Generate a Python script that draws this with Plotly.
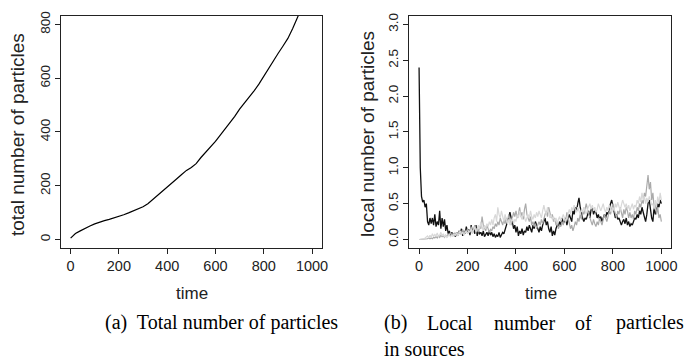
import plotly.graph_objects as go

W, H = 684, 362

# ---------------- data ----------------
# (a) total number of particles, sampled every 20 time units
time_total = list(range(0, 1001, 20))
total_particles = [5, 22, 32, 42, 50, 58, 65, 70, 75, 80,
                   86, 92, 99, 106, 114, 122, 133, 148, 163, 178,
                   195, 210, 226, 242, 257, 268, 282, 305, 325, 342,
                   365, 388, 410, 433, 458, 485, 507, 530, 553, 578,
                   607, 640, 668, 693, 720, 748, 785, 830, 870, 910,
                   950]

# (b) local number of particles in three sources, every 5 time units
time_local = list(range(0, 1001, 5))
source_black = [
    2.4, 1.0, 0.6, 0.52, 0.55, 0.45, 0.5, 0.25, 0.2, 0.3,
    0.22, 0.3, 0.2, 0.35, 0.18, 0.25, 0.2, 0.4, 0.15, 0.3,
    0.18, 0.28, 0.12, 0.2, 0.08, 0.12, 0.05, 0.1, 0.06, 0.08,
    0.04, 0.1, 0.05, 0.12, 0.08, 0.15, 0.05, 0.12, 0.08, 0.18,
    0.1, 0.14, 0.06, 0.2, 0.1, 0.15, 0.08, 0.2, 0.05, 0.12,
    0.08, 0.1, 0.05, 0.12, 0.04, 0.08, 0.1, 0.05, 0.12, 0.06,
    0.1, 0.04, 0.08, 0.03, 0.06, 0.04, 0.1, 0.03, 0.06, 0.1,
    0.08, 0.15, 0.2, 0.25, 0.3, 0.38, 0.3, 0.25, 0.15, 0.2,
    0.1, 0.18, 0.05, 0.12, 0.08, 0.15, 0.06, 0.12, 0.1, 0.18,
    0.12, 0.2, 0.15, 0.1, 0.2, 0.15, 0.25, 0.2, 0.15, 0.1,
    0.18, 0.12, 0.2, 0.25, 0.3, 0.2, 0.25, 0.15, 0.1, 0.18,
    0.05, 0.12, 0.06, 0.15, 0.2, 0.18, 0.25, 0.2, 0.3, 0.22,
    0.25, 0.3, 0.2, 0.28, 0.35, 0.3, 0.25, 0.4, 0.35, 0.45,
    0.4, 0.5, 0.58, 0.45, 0.35, 0.3, 0.25, 0.3, 0.28, 0.35,
    0.4, 0.3, 0.42, 0.45, 0.35, 0.4, 0.38, 0.3, 0.35, 0.28,
    0.32, 0.25, 0.3, 0.35, 0.3, 0.38, 0.35, 0.45, 0.5, 0.55,
    0.45, 0.4, 0.3, 0.35, 0.28, 0.3, 0.25, 0.2, 0.25, 0.28,
    0.22, 0.3, 0.2, 0.25, 0.18, 0.22, 0.2, 0.25, 0.3, 0.28,
    0.35, 0.3, 0.4, 0.35, 0.45, 0.38, 0.3, 0.25, 0.35, 0.5,
    0.55, 0.4, 0.3, 0.25, 0.45, 0.35, 0.4, 0.5, 0.45, 0.55,
    0.5]
source_gray = [
    0, 0, 0, 0, 0, 0.01, 0, 0.01, 0.02, 0.01,
    0.02, 0.01, 0.03, 0.02, 0.04, 0.02, 0.05, 0.03, 0.06, 0.04,
    0.05, 0.03, 0.06, 0.04, 0.08, 0.05, 0.1, 0.06, 0.08, 0.05,
    0.07, 0.1, 0.06, 0.12, 0.08, 0.1, 0.14, 0.08, 0.12, 0.1,
    0.15, 0.1, 0.12, 0.18, 0.1, 0.14, 0.2, 0.12, 0.16, 0.1,
    0.18, 0.15, 0.32, 0.2, 0.15, 0.12, 0.2, 0.15, 0.1, 0.14,
    0.12, 0.18, 0.15, 0.22, 0.18, 0.25, 0.2, 0.3, 0.25, 0.2,
    0.28, 0.22, 0.3, 0.25, 0.35, 0.28, 0.2, 0.3, 0.38, 0.32,
    0.4, 0.3, 0.35, 0.45, 0.32, 0.38, 0.28, 0.42, 0.5, 0.35,
    0.3, 0.25, 0.32, 0.2, 0.25, 0.18, 0.22, 0.15, 0.2, 0.25,
    0.2, 0.28, 0.22, 0.3, 0.35, 0.4, 0.32, 0.45, 0.38, 0.3,
    0.35, 0.25, 0.3, 0.2, 0.25, 0.15, 0.2, 0.18, 0.25, 0.2,
    0.3, 0.25, 0.38, 0.3, 0.22, 0.15, 0.2, 0.12, 0.18, 0.25,
    0.2, 0.3, 0.25, 0.35, 0.28, 0.4, 0.35, 0.45, 0.5, 0.42,
    0.35, 0.3, 0.25, 0.2, 0.28, 0.22, 0.18, 0.25, 0.2, 0.3,
    0.25, 0.2, 0.28, 0.35, 0.3, 0.25, 0.32, 0.4, 0.35, 0.45,
    0.5, 0.42, 0.35, 0.3, 0.4, 0.35, 0.45, 0.38, 0.3, 0.42,
    0.35, 0.45, 0.4, 0.3, 0.38, 0.3, 0.35, 0.28, 0.4, 0.35,
    0.45, 0.4, 0.5, 0.45, 0.55, 0.5, 0.65, 0.6, 0.75, 0.9,
    0.7, 0.8, 0.55, 0.65, 0.45, 0.5, 0.35, 0.45, 0.3, 0.35,
    0.25]
source_light = [
    0, 0, 0, 0, 0.01, 0.02, 0.03, 0.05, 0.02, 0.06,
    0.03, 0.08, 0.04, 0.07, 0.05, 0.09, 0.04, 0.06, 0.1, 0.05,
    0.08, 0.04, 0.06, 0.03, 0.05, 0.07, 0.04, 0.06, 0.05, 0.08,
    0.06, 0.09, 0.05, 0.08, 0.12, 0.07, 0.1, 0.06, 0.09, 0.12,
    0.08, 0.12, 0.1, 0.15, 0.08, 0.12, 0.18, 0.1, 0.14, 0.2,
    0.15, 0.25, 0.18, 0.12, 0.2, 0.15, 0.22, 0.18, 0.25, 0.2,
    0.28, 0.2, 0.3, 0.35, 0.25, 0.45, 0.35, 0.3, 0.4, 0.3,
    0.25, 0.35, 0.3, 0.22, 0.28, 0.2, 0.25, 0.3, 0.22, 0.28,
    0.25, 0.35, 0.3, 0.4, 0.32, 0.28, 0.38, 0.3, 0.25, 0.3,
    0.35, 0.3, 0.4, 0.32, 0.28, 0.35, 0.3, 0.38, 0.32, 0.4,
    0.35, 0.3, 0.4, 0.48, 0.4, 0.35, 0.45, 0.38, 0.3, 0.35,
    0.28, 0.32, 0.25, 0.3, 0.22, 0.28, 0.32, 0.25, 0.3, 0.35,
    0.3, 0.25, 0.3, 0.38, 0.42, 0.35, 0.45, 0.4, 0.48, 0.42,
    0.38, 0.45, 0.4, 0.35, 0.42, 0.38, 0.45, 0.4, 0.35, 0.42,
    0.45, 0.5, 0.42, 0.48, 0.4, 0.45, 0.38, 0.42, 0.5, 0.45,
    0.4, 0.45, 0.5, 0.42, 0.38, 0.45, 0.4, 0.48, 0.42, 0.38,
    0.45, 0.4, 0.5, 0.45, 0.52, 0.45, 0.4, 0.48, 0.55, 0.5,
    0.45, 0.5, 0.42, 0.48, 0.4, 0.45, 0.5, 0.42, 0.48, 0.45,
    0.55, 0.5, 0.6, 0.52, 0.65, 0.55, 0.6, 0.5, 0.58, 0.52,
    0.6, 0.55, 0.48, 0.5, 0.42, 0.55, 0.45, 0.6, 0.5, 0.65,
    0.55]

x_ticks = [0, 200, 400, 600, 800, 1000]
left_y_ticks = [0, 200, 400, 600, 800]
right_y_ticks = [0, 0.5, 1.0, 1.5, 2.0, 2.5, 3.0]
right_y_labels = ["0.0", "0.5", "1.0", "1.5", "2.0", "2.5", "3.0"]

# ---------------- figure ----------------
SANS = "Liberation Sans, Arial, sans-serif"
SERIF = "Liberation Serif, Times New Roman, serif"

def px_x(x):
    return x / W

def px_y(y):
    return 1 - y / H

fig = go.Figure()
fig.add_trace(go.Scatter(x=time_total, y=total_particles, mode="lines",
                         line=dict(color="black", width=1.2),
                         xaxis="x", yaxis="y", showlegend=False))
fig.add_trace(go.Scatter(x=time_local, y=source_black, mode="lines",
                         line=dict(color="#111111", width=1.3),
                         xaxis="x2", yaxis="y2", showlegend=False))
fig.add_trace(go.Scatter(x=time_local, y=source_gray, mode="lines",
                         line=dict(color="#aaaaaa", width=1.2),
                         xaxis="x2", yaxis="y2", showlegend=False))
fig.add_trace(go.Scatter(x=time_local, y=source_light, mode="lines",
                         line=dict(color="#d8d8d8", width=1.2),
                         xaxis="x2", yaxis="y2", showlegend=False))

axis_common = dict(showgrid=False, zeroline=False, showline=True, mirror=True,
                   linecolor="#222222", linewidth=1, ticks="outside", ticklen=5,
                   tickcolor="#222222", tickwidth=1)
xfont = dict(family=SANS, size=14.5, color="#222222")
yfont = dict(family=SANS, size=13.5, color="#222222")

box_top, box_bot = 11, 246.5
fig.update_layout(
    width=W, height=H,
    margin=dict(l=0, r=0, t=0, b=0),
    paper_bgcolor="white", plot_bgcolor="white",
    xaxis=dict(domain=[px_x(61.5), px_x(324.5)], range=[-40, 1040],
               tickvals=x_ticks, anchor="y", tickfont=xfont, **axis_common),
    yaxis=dict(domain=[px_y(box_bot), px_y(box_top)], range=[-32, 832],
               tickvals=left_y_ticks, tickangle=-90, anchor="x", tickfont=yfont,
               **axis_common),
    xaxis2=dict(domain=[px_x(413), px_x(677)], range=[-40, 1040],
                tickvals=x_ticks, anchor="y2", tickfont=xfont, **axis_common),
    yaxis2=dict(domain=[px_y(box_bot), px_y(box_top)], range=[-0.12, 3.12],
                tickvals=right_y_ticks, ticktext=right_y_labels, tickangle=-90,
                anchor="x2", tickfont=yfont, **axis_common),
)

ann = []
def add_text(text, x, y, size, family, angle=0, xanchor="center", color="#222222"):
    ann.append(dict(text=text, x=px_x(x), y=px_y(y), xref="paper", yref="paper",
                    showarrow=False, textangle=angle, xanchor=xanchor, yanchor="middle",
                    font=dict(family=family, size=size, color=color)))

add_text("time", 194, 293, 17, SANS)
add_text("time", 546, 293, 17, SANS)
add_text("total number of particles", 17, 131, 19, SANS, angle=-90)
add_text("local number of particles", 370, 131, 19, SANS, angle=-90)

add_text("(a)  Total number of particles", 104, 322, 20, SERIF, xanchor="left", color="black")
b_words = [("(b)", 385), ("Local", 429), ("number", 496), ("of", 578), ("particles", 619)]
for word, xpos in b_words:
    add_text(word, xpos, 322, 20, SERIF, xanchor="left", color="black")
add_text("in sources", 385, 349, 20, SERIF, xanchor="left", color="black")

fig.update_layout(annotations=ann)
fig.write_html("out.html")
